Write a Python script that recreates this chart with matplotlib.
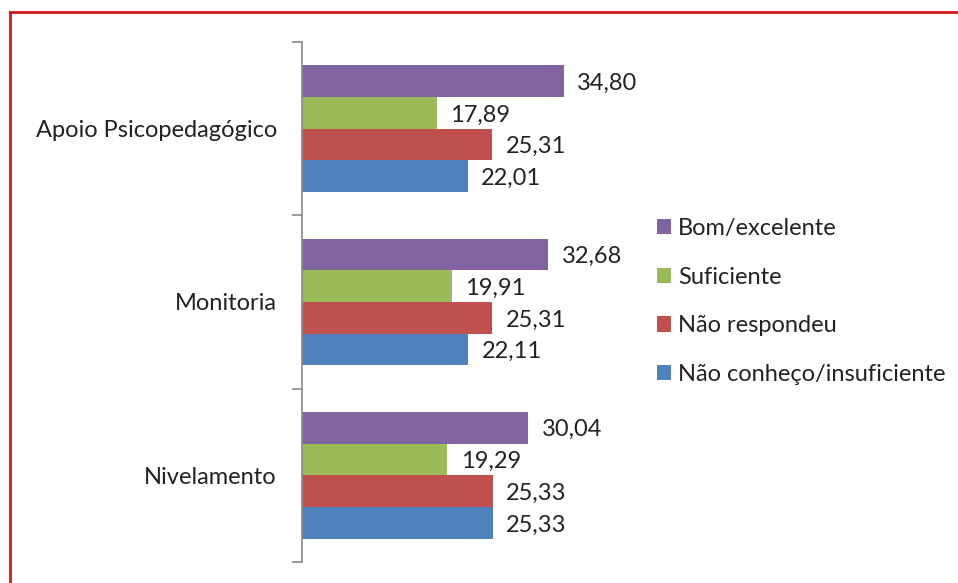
import numpy as np
import matplotlib.pyplot as plt
from matplotlib.lines import Line2D

plt.rcParams['font.family'] = ['Lato', 'DejaVu Sans']

# data (top to bottom as shown in the chart)
categories = ['Apoio Psicopedagógico', 'Monitoria', 'Nivelamento']
series = ['Bom/excelente', 'Suficiente', 'Não respondeu', 'Não conheço/insuficiente']
bom = [34.80, 32.68, 30.04]
suficiente = [17.89, 19.91, 19.29]
nao_resp = [25.31, 25.31, 25.33]
nao_conheco = [22.01, 22.11, 25.33]
colors = ['#8064A2', '#9BBB59', '#C0504D', '#4F81BD']

values = [bom, suficiente, nao_resp, nao_conheco]

fig = plt.figure(figsize=(9.58, 5.83), dpi=100)
ax = fig.add_axes([302 / 958, 21 / 583, 301 / 958, 520 / 583])

ypos = np.arange(len(categories))[::-1]  # Apoio on top
h = 0.183
offsets = [1.5 * h, 0.5 * h, -0.5 * h, -1.5 * h]

for vals, lab, col, off in zip(values, series, colors, offsets):
    bars = ax.barh(ypos + off, vals, height=h, color=col, label=lab)
    for b, v in zip(bars, vals):
        ax.text(v + 1.8, b.get_y() + b.get_height() / 2 - 0.012, f'{v:.2f}'.replace('.', ','),
                va='center', ha='left', fontsize=17, color='#222222')

ax.set_xlim(0, 40)
ax.set_ylim(-0.5, 2.5)
for s in ['top', 'right', 'bottom']:
    ax.spines[s].set_visible(False)
ax.spines['left'].set_color('#8a8a8a')
ax.spines['left'].set_linewidth(1.2)
ax.set_xticks([])
ax.set_yticks([-0.5, 0.5, 1.5, 2.5])
ax.set_yticklabels([])
ax.tick_params(axis='y', which='major', length=7, color='#8a8a8a', width=1.2)
ax.set_yticks(ypos, minor=True)
ax.set_yticklabels(categories, minor=True, fontsize=17, color='#222222')
ax.tick_params(axis='y', which='minor', length=0, pad=18)

leg = fig.legend(loc='center left', bbox_to_anchor=(0.673, 0.483), frameon=False,
                 fontsize=17, handlelength=0.62, handleheight=0.62, handletextpad=0.3,
                 labelspacing=1.17, borderpad=0, labelcolor='#222222')

# red frame around the chart area (top and left edges visible)
x0, y0 = 10 / 958, 1 - 12 / 583
fig.add_artist(Line2D([x0, x0], [0, y0], color='#d11a1a', linewidth=2, transform=fig.transFigure))
fig.add_artist(Line2D([x0, 1], [y0, y0], color='#d11a1a', linewidth=2, transform=fig.transFigure))

fig.savefig('out.png', dpi=100)
